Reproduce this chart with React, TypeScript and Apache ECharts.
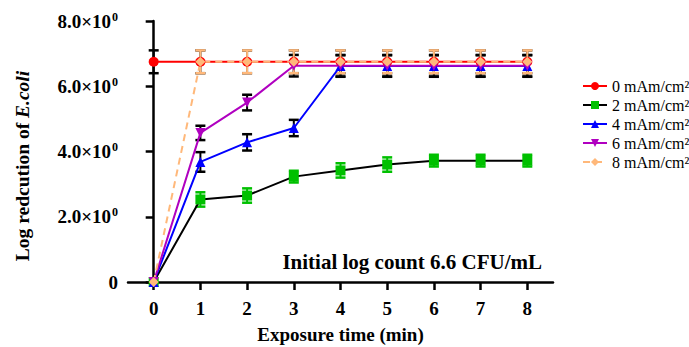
import React, { useEffect, useRef } from "react";
import * as echarts from "echarts";

const xs = [0, 1, 2, 3, 4, 5, 6, 7, 8];
const names = ["0 mAm/cm²", "2 mAm/cm²", "4 mAm/cm²", "6 mAm/cm²", "8 mAm/cm²"];
const v0 = [6.75, 6.75, 6.75, 6.75, 6.75, 6.75, 6.75, 6.75, 6.75];
const e0 = [0.35, 0.35, 0.35, 0.35, 0.35, 0.35, 0.35, 0.35, 0.35];
const v2 = [0, 2.53, 2.65, 3.23, 3.42, 3.6, 3.72, 3.72, 3.72];
const e2 = [0, 0.22, 0.22, 0.18, 0.22, 0.22, 0.18, 0.18, 0.18];
const v4 = [0, 3.68, 4.28, 4.72, 6.62, 6.62, 6.62, 6.62, 6.62];
const e4 = [0, 0.3, 0.25, 0.25, 0.33, 0.33, 0.33, 0.33, 0.33];
const v6 = [0, 4.57, 5.5, 6.63, 6.63, 6.63, 6.63, 6.63, 6.63];
const e6 = [0, 0.22, 0.24, 0.33, 0.33, 0.33, 0.33, 0.33, 0.33];
const v8 = [0, 6.75, 6.75, 6.75, 6.75, 6.75, 6.75, 6.75, 6.75];
const e8 = [0, 0.35, 0.35, 0.35, 0.35, 0.35, 0.35, 0.35, 0.35];

const SERIF = "'Liberation Serif', 'Times New Roman', serif";

function errSeries(vals: number[], errs: number[], color: string) {
  return {
    type: "custom",
    silent: true,
    data: xs
      .map((x, i) => [x, vals[i] - errs[i], vals[i] + errs[i], errs[i]])
      .filter((d) => d[3] > 0),
    encode: { x: 0, y: [1, 2] },
    renderItem: (params: any, api: any) => {
      const x = api.value(0);
      const lo = api.coord([x, api.value(1)]);
      const hi = api.coord([x, api.value(2)]);
      const w = 5;
      const st = { stroke: color, lineWidth: 2.5 };
      return {
        type: "group",
        children: [
          { type: "line", shape: { x1: lo[0], y1: lo[1], x2: hi[0], y2: hi[1] }, style: { stroke: color, lineWidth: 2 } },
          { type: "line", shape: { x1: lo[0] - w, y1: lo[1], x2: lo[0] + w, y2: lo[1] }, style: st },
          { type: "line", shape: { x1: hi[0] - w, y1: hi[1], x2: hi[0] + w, y2: hi[1] }, style: st },
        ],
      };
    },
  };
}

function lineSeries(name: string, vals: number[], lineColor: string, markColor: string, symbol: string, extra: any = {}) {
  return {
    type: "line",
    name,
    data: xs.map((x, i) => [x, vals[i]]),
    symbol,
    symbolSize: 10,
    showAllSymbol: true,
    lineStyle: { color: lineColor, width: 2, ...(extra.lineStyle || {}) },
    itemStyle: { color: markColor },
    symbolRotate: extra.symbolRotate || 0,
  };
}

export default function App() {
  const ref = useRef<HTMLDivElement>(null);
  useEffect(() => {
    const chart = echarts.init(ref.current!, null, { renderer: "svg" });
    const option: any = {
      animation: false,
      grid: { left: 128, right: 136, top: 21, bottom: 65, containLabel: false, outerBoundsMode: "none" },
      legend: {
        data: names,
        orient: "vertical",
        left: 577,
        top: 73,
        itemWidth: 24,
        itemHeight: 10,
        itemGap: 3,
        textStyle: { fontFamily: SERIF, fontSize: 16, color: "#000" },
      },
      xAxis: {
        type: "value",
        min: -0.55,
        max: 8.55,
        name: "Exposure time (min)",
        nameLocation: "middle",
        nameGap: 43,
        nameTextStyle: { fontFamily: SERIF, fontSize: 19, fontWeight: "bold", color: "#000" },
        axisLine: { lineStyle: { color: "#000", width: 2.5 } },
        axisTick: { show: true, length: 8, lineStyle: { color: "#000", width: 2.5 }, customValues: xs },
        axisLabel: { customValues: xs, margin: 17, fontFamily: SERIF, fontSize: 19, fontWeight: "bold", color: "#000" },
        splitLine: { show: false },
      },
      yAxis: {
        type: "value",
        min: 0,
        max: 8,
        interval: 2,
        axisLine: { show: true, lineStyle: { color: "#000", width: 2.5 } },
        axisTick: { show: true, length: 8, lineStyle: { color: "#000", width: 2.5 } },
        axisLabel: {
          margin: 10,
          formatter: (v: number) => (v === 0 ? "{a|0}" : `{a|${v.toFixed(1)}×10}{s|0}`),
          rich: {
            a: { fontFamily: SERIF, fontSize: 19, fontWeight: "bold", color: "#000" },
            s: { fontFamily: SERIF, fontSize: 12, fontWeight: "bold", color: "#000", padding: [0, 0, 9, 1] },
          },
        },
        splitLine: { show: false },
      },
      graphic: [
        {
          type: "text",
          x: 22,
          y: 166,
          rotation: Math.PI / 2,
          style: {
            text: "{n|Log redcution of }{i|E.coli}",
            align: "center",
            verticalAlign: "middle",
            rich: {
              n: { fontFamily: SERIF, fontSize: 19.5, fontWeight: "bold", fill: "#000" },
              i: { fontFamily: SERIF, fontSize: 19.5, fontWeight: "bold", fontStyle: "italic", fill: "#000" },
            },
          },
        },
        {
          type: "text",
          right: 147,
          top: 251,
          style: { text: "Initial log count 6.6 CFU/mL", fontFamily: SERIF, fontSize: 21, fontWeight: "bold", fill: "#000" },
        },
      ],
      series: [
        errSeries(v0, e0, "#000"),
        lineSeries(names[0], v0, "#ff0000", "#ff0000", "circle"),
        errSeries(v2, e2, "#00c000"),
        lineSeries(names[1], v2, "#000", "#00c000", "rect"),
        errSeries(v4, e4, "#000"),
        lineSeries(names[2], v4, "#0000ff", "#0000ff", "triangle"),
        errSeries(v6, e6, "#000"),
        lineSeries(names[3], v6, "#b000c0", "#b000c0", "triangle", { symbolRotate: 180 }),
        errSeries(v8, e8, "#ffb87a"),
        lineSeries(names[4], v8, "#ffb87a", "#ffb87a", "diamond", { lineStyle: { type: [7, 5] } }),
      ],
    };
    chart.setOption(option);
    return () => chart.dispose();
  }, []);
  return <div ref={ref} style={{ width: 689, height: 347, position: "absolute", left: 0, top: 0 }} />;
}
